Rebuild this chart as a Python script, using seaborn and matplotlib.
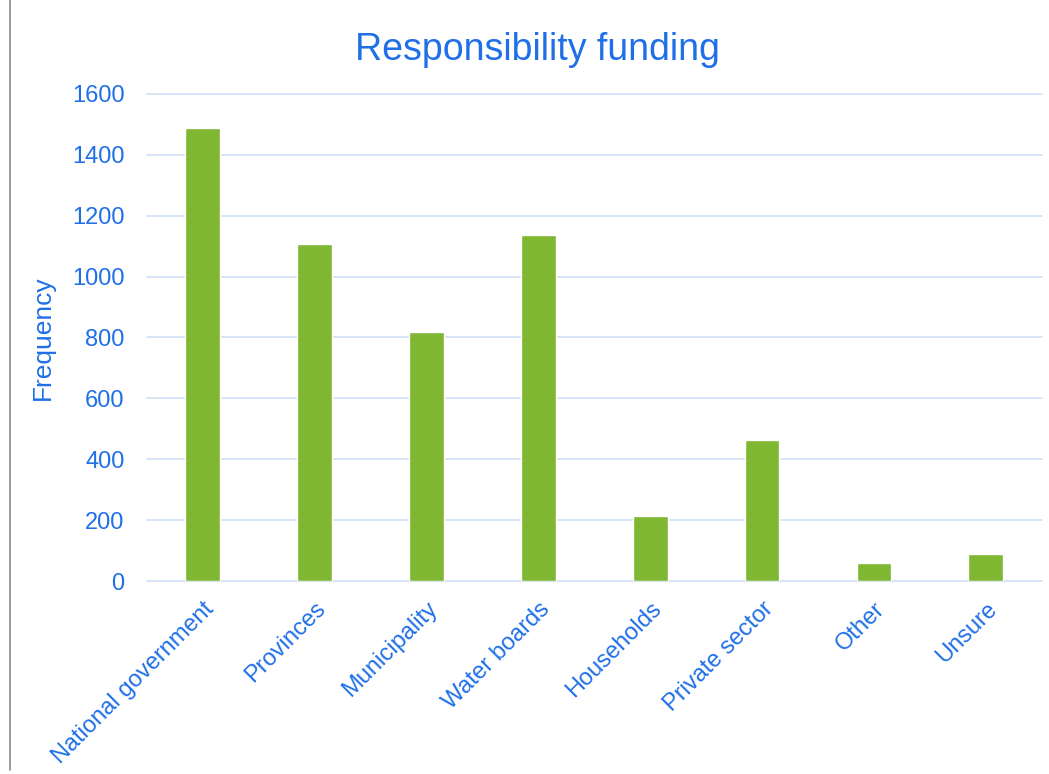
import matplotlib
matplotlib.use("Agg")
import matplotlib.pyplot as plt
import seaborn as sns
import pandas as pd

categories = ["National government", "Provinces", "Municipality", "Water boards",
              "Households", "Private sector", "Other", "Unsure"]
frequency = [1487, 1107, 818, 1137, 214, 463, 60, 90]
y_ticks = [0, 200, 400, 600, 800, 1000, 1200, 1400, 1600]

BLUE = "#1f6fe8"
GREEN = "#80b732"
GRID = "#d4e2f8"

sns.set_theme(style="white")
plt.rcParams["font.family"] = ["Liberation Sans", "DejaVu Sans"]

df = pd.DataFrame({"Category": categories, "Frequency": frequency})

fig = plt.figure(figsize=(10.49, 7.74), dpi=100)
ax = fig.add_axes([0.140, 0.249, 0.853, 0.630])

sns.barplot(data=df, x="Category", y="Frequency", color=GREEN, width=0.31,
            saturation=1, ax=ax, zorder=3)

ax.set_xlim(-0.5, len(categories) - 0.5)
ax.set_ylim(0, 1600)
ax.set_yticks(y_ticks)
ax.yaxis.grid(True, color=GRID, linewidth=1.3, zorder=0)
ax.set_axisbelow(True)
for gl in ax.get_ygridlines():
    gl.set_clip_on(False)
for s in ax.spines.values():
    s.set_visible(False)

ax.tick_params(axis="y", length=0, pad=16, labelsize=17, labelcolor=BLUE)
ax.tick_params(axis="x", length=0, pad=12, labelsize=17, labelcolor=BLUE)
plt.setp(ax.get_xticklabels(), rotation=45, ha="right", rotation_mode="anchor")

ax.set_xlabel("")
ax.set_ylabel("Frequency", fontsize=19, color=BLUE, labelpad=12)
fig.text(0.512, 0.936, "Responsibility funding", ha="center", va="center",
         fontsize=27, color=BLUE)

# thin grey rule along the left edge of the figure
fig.add_artist(plt.Line2D([0.0095, 0.0095], [0.005, 1.0], color="#8a8a8a",
                          linewidth=1.2, transform=fig.transFigure))

fig.savefig("out.png", dpi=100, facecolor="white")
